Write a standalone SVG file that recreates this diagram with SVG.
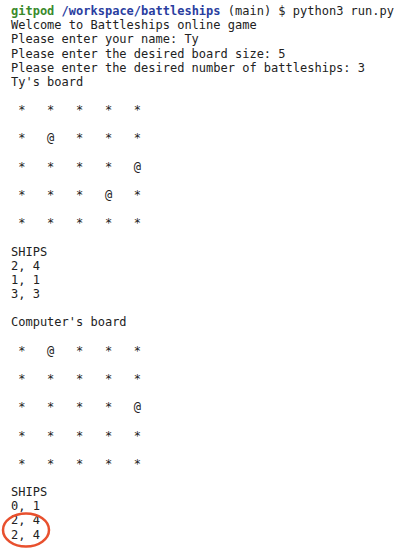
<svg xmlns="http://www.w3.org/2000/svg" width="400" height="550" viewBox="0 0 400 550">
<style>
text{font-family:"DejaVu Sans Mono","Liberation Mono",monospace;font-size:12px;fill:#222;white-space:pre}
.g{fill:#3a8a2c;font-weight:bold}
.b{fill:#2a3ea0;font-weight:bold}
</style>
<rect width="400" height="550" fill="#fff"/>
<g id="terminal" xml:space="preserve">
<text x="11" y="15"><tspan class="g">gitpod</tspan> <tspan class="b">/workspace/battleships</tspan> (main) $ python3 run.py</text>
<text x="11" y="29.2">Welcome to Battleships online game</text>
<text x="11" y="43.3">Please enter your name: Ty</text>
<text x="11" y="57.5">Please enter the desired board size: 5</text>
<text x="11" y="71.6">Please enter the desired number of battleships: 3</text>
<text x="11" y="85.8">Ty's board</text>
<text x="11" y="114.1"> *   *   *   *   *</text>
<text x="11" y="142.4"> *   @   *   *   *</text>
<text x="11" y="170.7"> *   *   *   *   @</text>
<text x="11" y="199"> *   *   *   @   *</text>
<text x="11" y="227.3"> *   *   *   *   *</text>
<text x="11" y="255.6">SHIPS</text>
<text x="11" y="269.7">2, 4</text>
<text x="11" y="283.9">1, 1</text>
<text x="11" y="298">3, 3</text>
<text x="11" y="326.3">Computer's board</text>
<text x="11" y="354.6"> *   @   *   *   *</text>
<text x="11" y="382.9"> *   *   *   *   *</text>
<text x="11" y="411.2"> *   *   *   *   @</text>
<text x="11" y="439.5"> *   *   *   *   *</text>
<text x="11" y="467.8"> *   *   *   *   *</text>
<text x="11" y="496.1">SHIPS</text>
<text x="11" y="510.2">0, 1</text>
<text x="11" y="524.4">2, 4</text>
<text x="11" y="538.5">2, 4</text>
</g>
<g id="highlight">
<ellipse cx="26" cy="530" rx="23" ry="16.5" fill="none" stroke="#e8502e" stroke-width="2.5"/>
</g>
</svg>
